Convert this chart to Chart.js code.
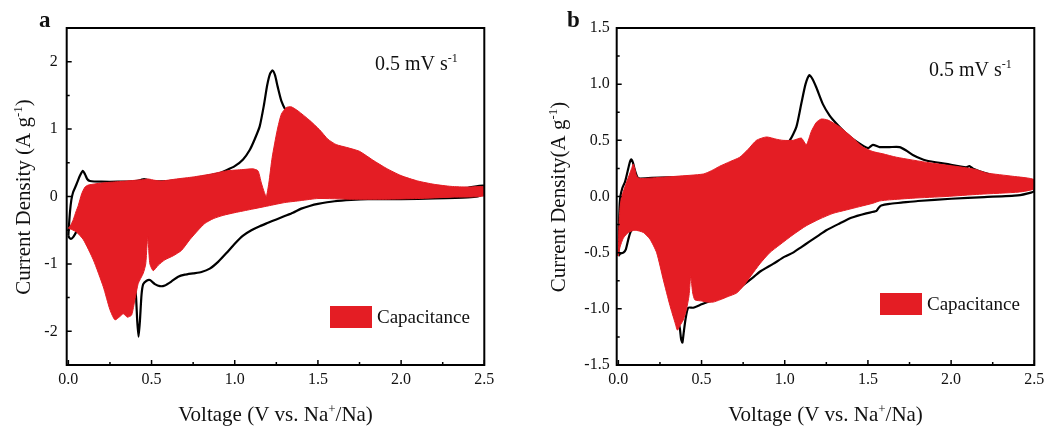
<!DOCTYPE html>
<html>
<head>
<meta charset="utf-8">
<title>CV capacitance contribution</title>
<script src="https://cdn.jsdelivr.net/npm/chart.js@4.4.1/dist/chart.umd.min.js"></script>
<style>
  html, body { margin: 0; padding: 0; background: #fff; }
  #wrap { position: relative; width: 1051px; height: 432px; overflow: hidden; }
  .panel { position: absolute; top: 0; height: 432px; }
  #panelA { left: 0; width: 525px; }
  #panelB { left: 525px; width: 526px; }
</style>
</head>
<body>
<div id="wrap">
  <div class="panel" id="panelA"><canvas id="chartA" width="525" height="432"></canvas></div>
  <div class="panel" id="panelB"><canvas id="chartB" width="526" height="432"></canvas></div>
</div>
<script>
// ---- data: [voltage (V), current density (A/g)] ----

// (a) total CV, anodic sweep 0 -> 2.5 V
const cvA_up = [[0.0,-0.58],[0.004,-0.42],[0.01,-0.22],[0.018,-0.05],[0.028,0.06],[0.04,0.13],[0.055,0.22],[0.07,0.31],[0.087,0.38],[0.1,0.33],[0.113,0.26],[0.13,0.23],[0.2,0.22],[0.3,0.22],[0.4,0.23],[0.435,0.245],[0.455,0.26],[0.475,0.245],[0.51,0.225],[0.6,0.23],[0.7,0.25],[0.8,0.29],[0.9,0.34],[0.95,0.39],[1.0,0.45],[1.05,0.55],[1.09,0.69],[1.12,0.85],[1.15,1.04],[1.175,1.35],[1.195,1.65],[1.212,1.82],[1.227,1.87],[1.242,1.8],[1.258,1.63],[1.28,1.42],[1.31,1.26],[1.35,1.1],[1.4,0.95],[1.5,0.72],[1.6,0.55],[1.7,0.45],[1.8,0.36],[1.9,0.28],[2.0,0.2],[2.1,0.16],[2.2,0.13],[2.3,0.12],[2.4,0.13],[2.5,0.16]];
// (a) total CV, cathodic sweep 2.5 -> 0 V
const cvA_down = [[2.5,0.05],[2.46,0.0],[2.4,-0.015],[2.2,-0.03],[2.0,-0.04],[1.8,-0.04],[1.7,-0.05],[1.6,-0.07],[1.5,-0.11],[1.45,-0.14],[1.4,-0.18],[1.35,-0.24],[1.3,-0.29],[1.25,-0.34],[1.2,-0.39],[1.15,-0.44],[1.1,-0.5],[1.05,-0.58],[1.0,-0.7],[0.95,-0.84],[0.9,-0.97],[0.85,-1.07],[0.8,-1.12],[0.75,-1.14],[0.7,-1.16],[0.66,-1.19],[0.62,-1.26],[0.58,-1.32],[0.55,-1.33],[0.52,-1.3],[0.49,-1.24],[0.47,-1.25],[0.45,-1.3],[0.44,-1.45],[0.43,-1.85],[0.422,-2.08],[0.414,-1.85],[0.407,-1.5],[0.398,-1.3],[0.38,-1.2],[0.3,-1.0],[0.2,-0.8],[0.12,-0.6],[0.07,-0.5],[0.05,-0.52],[0.03,-0.6],[0.015,-0.63],[0.005,-0.61],[0.0,-0.58]];
// (a) capacitive part, upper and lower edges
const capA_up = [[0.0,-0.47],[0.015,-0.42],[0.03,-0.34],[0.045,-0.23],[0.06,-0.13],[0.08,0.04],[0.1,0.14],[0.12,0.17],[0.2,0.2],[0.3,0.22],[0.4,0.24],[0.45,0.25],[0.48,0.26],[0.52,0.24],[0.56,0.23],[0.65,0.26],[0.75,0.29],[0.85,0.33],[0.95,0.38],[1.05,0.4],[1.11,0.41],[1.14,0.38],[1.16,0.2],[1.178,0.06],[1.19,0.0],[1.205,0.2],[1.225,0.58],[1.255,0.98],[1.28,1.22],[1.31,1.32],[1.34,1.33],[1.38,1.27],[1.45,1.13],[1.51,0.99],[1.56,0.85],[1.61,0.77],[1.67,0.73],[1.75,0.67],[1.83,0.54],[1.91,0.42],[2.0,0.31],[2.1,0.23],[2.2,0.18],[2.3,0.15],[2.4,0.14],[2.5,0.14]];
const capA_down = [[2.5,0.01],[2.3,-0.01],[2.1,-0.03],[1.9,-0.04],[1.7,-0.04],[1.5,-0.03],[1.4,-0.06],[1.3,-0.09],[1.2,-0.14],[1.1,-0.19],[1.0,-0.24],[0.93,-0.28],[0.87,-0.33],[0.82,-0.4],[0.78,-0.5],[0.73,-0.64],[0.68,-0.8],[0.63,-0.88],[0.58,-0.94],[0.54,-1.02],[0.51,-1.1],[0.49,-1.0],[0.482,-0.75],[0.477,-0.6],[0.472,-0.75],[0.465,-1.0],[0.45,-1.14],[0.42,-1.29],[0.4,-1.53],[0.38,-1.76],[0.355,-1.79],[0.33,-1.74],[0.31,-1.78],[0.28,-1.83],[0.25,-1.68],[0.21,-1.34],[0.15,-0.94],[0.09,-0.64],[0.05,-0.53],[0.02,-0.49],[0.0,-0.47]];

// (b) total CV
const cvB_up = [[0.0,-0.53],[0.003,-0.3],[0.007,-0.1],[0.012,0.0],[0.025,0.08],[0.04,0.13],[0.055,0.22],[0.068,0.3],[0.077,0.33],[0.088,0.3],[0.1,0.23],[0.115,0.17],[0.13,0.16],[0.2,0.165],[0.3,0.17],[0.5,0.18],[0.7,0.25],[0.9,0.38],[0.97,0.44],[1.03,0.5],[1.07,0.62],[1.1,0.83],[1.125,1.0],[1.148,1.08],[1.165,1.05],[1.19,0.97],[1.23,0.82],[1.27,0.72],[1.31,0.65],[1.37,0.56],[1.43,0.49],[1.5,0.43],[1.53,0.46],[1.57,0.44],[1.63,0.44],[1.69,0.44],[1.73,0.41],[1.77,0.37],[1.85,0.32],[1.97,0.29],[2.09,0.26],[2.11,0.27],[2.13,0.25],[2.2,0.21],[2.3,0.17],[2.4,0.15],[2.5,0.13]];
const cvB_down = [[2.5,0.05],[2.48,0.035],[2.4,0.01],[2.2,-0.005],[2.0,-0.02],[1.8,-0.04],[1.7,-0.055],[1.63,-0.065],[1.58,-0.08],[1.565,-0.1],[1.55,-0.13],[1.49,-0.15],[1.4,-0.19],[1.33,-0.24],[1.25,-0.3],[1.2,-0.35],[1.15,-0.4],[1.1,-0.45],[1.05,-0.5],[1.0,-0.535],[0.93,-0.6],[0.85,-0.67],[0.81,-0.72],[0.73,-0.81],[0.65,-0.88],[0.6,-0.9],[0.5,-0.96],[0.45,-0.99],[0.42,-0.99],[0.405,-1.08],[0.392,-1.22],[0.385,-1.3],[0.377,-1.27],[0.37,-1.18],[0.35,-1.03],[0.3,-0.78],[0.25,-0.54],[0.2,-0.34],[0.15,-0.28],[0.1,-0.27],[0.075,-0.31],[0.06,-0.38],[0.045,-0.47],[0.03,-0.5],[0.01,-0.51],[0.0,-0.53]];
// (b) capacitive part
const capB_up = [[0.0,-0.53],[0.003,-0.27],[0.01,-0.1],[0.02,0.0],[0.05,0.13],[0.08,0.25],[0.09,0.29],[0.1,0.24],[0.11,0.18],[0.13,0.16],[0.25,0.17],[0.35,0.18],[0.51,0.2],[0.56,0.23],[0.61,0.27],[0.67,0.31],[0.73,0.35],[0.78,0.42],[0.83,0.5],[0.89,0.53],[0.95,0.51],[0.99,0.5],[1.05,0.5],[1.1,0.52],[1.13,0.46],[1.16,0.58],[1.19,0.66],[1.22,0.69],[1.26,0.68],[1.33,0.62],[1.41,0.52],[1.47,0.44],[1.53,0.4],[1.59,0.38],[1.67,0.35],[1.87,0.3],[2.07,0.26],[2.15,0.24],[2.21,0.21],[2.37,0.18],[2.5,0.15]];
const capB_down = [[2.5,0.07],[2.41,0.04],[2.17,0.02],[1.97,0.0],[1.77,-0.015],[1.63,-0.03],[1.57,-0.04],[1.53,-0.06],[1.45,-0.09],[1.37,-0.12],[1.29,-0.15],[1.21,-0.2],[1.13,-0.26],[1.05,-0.34],[0.97,-0.43],[0.91,-0.5],[0.85,-0.6],[0.8,-0.7],[0.75,-0.8],[0.71,-0.86],[0.66,-0.89],[0.61,-0.92],[0.57,-0.94],[0.53,-0.94],[0.5,-0.93],[0.46,-0.92],[0.447,-0.86],[0.435,-0.71],[0.425,-0.88],[0.41,-1.0],[0.39,-1.1],[0.37,-1.15],[0.355,-1.19],[0.34,-1.12],[0.31,-0.97],[0.27,-0.74],[0.23,-0.5],[0.19,-0.38],[0.15,-0.32],[0.1,-0.3],[0.06,-0.32],[0.03,-0.37],[0.01,-0.45],[0.0,-0.53]];

// ---- ticks and labels ----
const X_TICKS = [0, 0.5, 1.0, 1.5, 2.0, 2.5];
const X_MINOR = [0.25, 0.75, 1.25, 1.75, 2.25];
const Y_TICKS_A = [-2, -1, 0, 1, 2];
const Y_MINOR_A = [-1.5, -0.5, 0.5, 1.5];
const Y_TICKS_B = [-1.5, -1.0, -0.5, 0, 0.5, 1.0, 1.5];
const Y_MINOR_B = [-1.25, -0.75, -0.25, 0.25, 0.75, 1.25];

const X_TITLE = [['Voltage (V vs. Na'], ['+', true], ['/Na)']];
const Y_TITLE_A = [['Current Density (A g'], ['-1', true], [')']];
const Y_TITLE_B = [['Current Density(A g'], ['-1', true], [')']];
const RATE_LABEL = [['0.5 mV s'], ['-1', true]];
const LEGEND_LABEL = 'Capacitance';

const SERIF = '"Liberation Serif", "Times New Roman", serif';
const RED = '#e41d24';

const toPoints = pairs => pairs.map(([x, y]) => ({ x, y }));
// forward sweep followed by the return sweep gives a closed loop
const loop = (up, down) => toPoints(up.concat(down));

// text with optional superscript runs, y is the baseline
function drawRich(ctx, parts, x, y, size, align) {
  const supSize = Math.round(size * 0.62);
  let w = 0;
  for (const [t, sup] of parts) {
    ctx.font = `${sup ? supSize : size}px ${SERIF}`;
    w += ctx.measureText(t).width;
  }
  let cx = align === 'center' ? x - w / 2 : x;
  ctx.textAlign = 'left';
  ctx.textBaseline = 'alphabetic';
  for (const [t, sup] of parts) {
    ctx.font = `${sup ? supSize : size}px ${SERIF}`;
    ctx.fillText(t, cx, sup ? y - size * 0.4 : y);
    cx += ctx.measureText(t).width;
  }
}

// box frame, inward ticks, titles, rate note and legend
const panelDecor = {
  id: 'panelDecor',
  afterDraw(chart, args, o) {
    const { ctx, chartArea: a, scales: { x, y } } = chart;
    ctx.save();
    ctx.fillStyle = '#111';
    ctx.strokeStyle = '#000';

    ctx.lineWidth = 1.5;
    ctx.beginPath();
    const tickX = (v, len) => { const p = x.getPixelForValue(v); ctx.moveTo(p, a.bottom); ctx.lineTo(p, a.bottom - len); };
    const tickY = (v, len) => { const p = y.getPixelForValue(v); ctx.moveTo(a.left, p); ctx.lineTo(a.left + len, p); };
    X_TICKS.forEach(v => tickX(v, 5));
    X_MINOR.forEach(v => tickX(v, 3));
    o.yMajor.forEach(v => tickY(v, 5));
    o.yMinor.forEach(v => tickY(v, 3));
    ctx.stroke();

    ctx.lineWidth = 2;
    ctx.strokeRect(a.left, a.top, a.right - a.left, a.bottom - a.top);

    // panel letter
    ctx.font = `bold 23px ${SERIF}`;
    ctx.textAlign = 'left';
    ctx.textBaseline = 'alphabetic';
    ctx.fillText(o.letter, o.letterAt[0], o.letterAt[1]);

    drawRich(ctx, X_TITLE, (a.left + a.right) / 2, o.xTitleY, 21, 'center');

    ctx.save();
    ctx.translate(o.yTitleAt[0], o.yTitleAt[1]);
    ctx.rotate(-Math.PI / 2);
    drawRich(ctx, o.yTitle, 0, 0, 21, 'center');
    ctx.restore();

    drawRich(ctx, RATE_LABEL, o.rateAt[0], o.rateAt[1], 20, 'left');

    const [lx, ly, lw, lh] = o.legendBox;
    ctx.fillStyle = RED;
    ctx.fillRect(lx, ly, lw, lh);
    ctx.fillStyle = '#111';
    ctx.font = `19px ${SERIF}`;
    ctx.textBaseline = 'middle';
    ctx.fillText(LEGEND_LABEL, lx + lw + 5, ly + lh / 2 + 1);
    ctx.restore();
  }
};

function makeChart(id, c) {
  return new Chart(document.getElementById(id), {
    type: 'line',
    data: {
      datasets: [
        {
          label: LEGEND_LABEL,
          data: loop(c.capUp, c.capDown),
          backgroundColor: RED,
          borderColor: RED,
          borderWidth: 1,
          fill: 'shape',
          pointRadius: 0,
          tension: 0.2
        },
        {
          label: 'CV',
          data: loop(c.cvUp, c.cvDown),
          borderColor: '#000',
          borderWidth: 2.2,
          fill: false,
          pointRadius: 0,
          tension: 0.2
        }
      ]
    },
    options: {
      responsive: false,
      animation: false,
      devicePixelRatio: 1,
      layout: { padding: { left: 0, top: 28, right: c.padRight, bottom: 0 } },
      plugins: {
        legend: { display: false },
        tooltip: { enabled: false },
        panelDecor: c.decor
      },
      scales: {
        x: {
          type: 'linear',
          min: -0.01,
          max: 2.5,
          grid: { display: false, drawTicks: false },
          border: { display: false },
          afterBuildTicks: s => { s.ticks = X_TICKS.map(v => ({ value: v })); },
          afterFit: s => { s.height = 67; },
          ticks: {
            color: '#111',
            font: { family: SERIF, size: 16 },
            padding: 5,
            maxRotation: 0,
            autoSkip: false,
            callback: v => v.toFixed(1)
          }
        },
        y: {
          type: 'linear',
          min: c.yMin,
          max: c.yMax,
          grid: { display: false, drawTicks: false },
          border: { display: false },
          afterBuildTicks: s => { s.ticks = c.yTicks.map(v => ({ value: v })); },
          afterFit: s => { s.width = c.axisWidth; },
          ticks: {
            color: '#111',
            font: { family: SERIF, size: 16 },
            padding: c.yPad,
            autoSkip: false,
            callback: c.yFormat
          }
        }
      }
    },
    plugins: [panelDecor]
  });
}

makeChart('chartA', {
  cvUp: cvA_up, cvDown: cvA_down, capUp: capA_up, capDown: capA_down,
  yMin: -2.5, yMax: 2.5, yTicks: Y_TICKS_A, yFormat: v => String(v),
  axisWidth: 66.7, padRight: 40.7, yPad: 9,
  decor: {
    letter: 'a', letterAt: [39, 27],
    yTitle: Y_TITLE_A, yTitleAt: [30, 197],
    yMajor: Y_TICKS_A, yMinor: Y_MINOR_A,
    xTitleY: 421,
    rateAt: [375, 70],
    legendBox: [330, 306, 42, 22]
  }
});

makeChart('chartB', {
  cvUp: cvB_up, cvDown: cvB_down, capUp: capB_up, capDown: capB_down,
  yMin: -1.5, yMax: 1.5, yTicks: Y_TICKS_B, yFormat: v => v.toFixed(1),
  axisWidth: 91.7, padRight: 16.7, yPad: 7,
  decor: {
    letter: 'b', letterAt: [42, 27],
    yTitle: Y_TITLE_B, yTitleAt: [40, 197],
    yMajor: Y_TICKS_B, yMinor: Y_MINOR_B,
    xTitleY: 421,
    rateAt: [404, 76],
    legendBox: [355, 293, 42, 22]
  }
});
</script>
</body>
</html>
